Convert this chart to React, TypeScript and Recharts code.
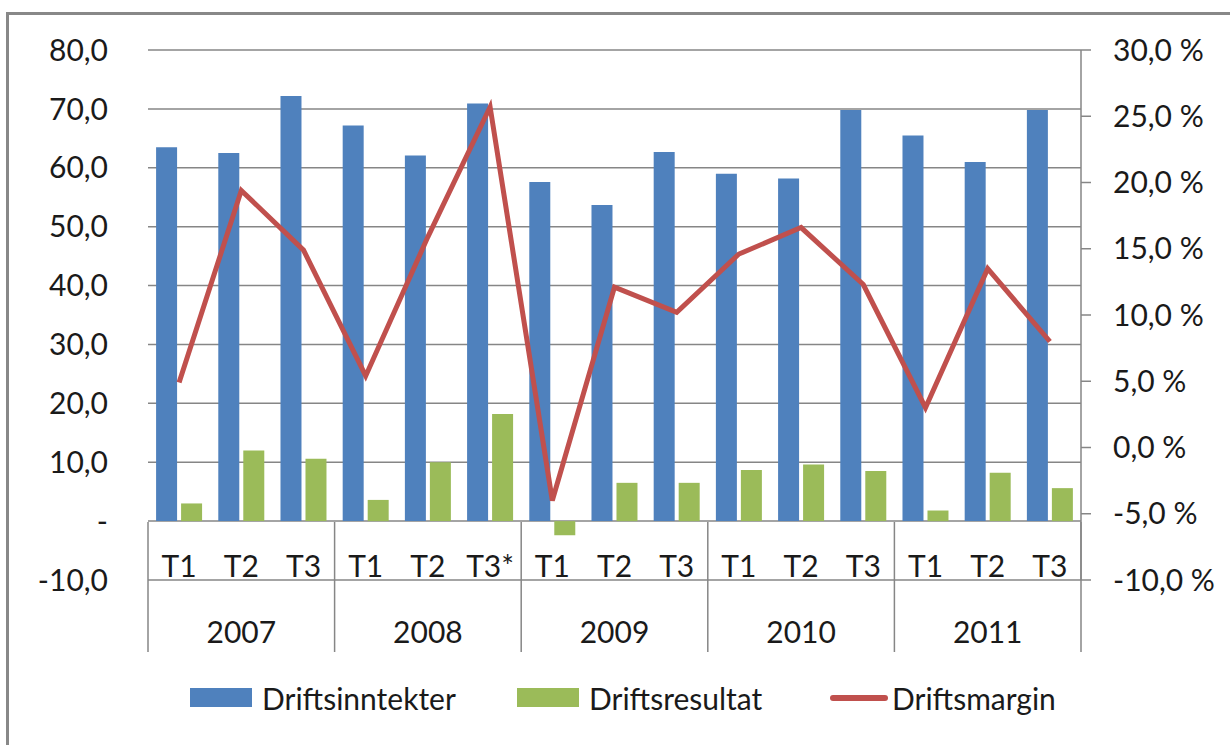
import React from 'react';
import { ComposedChart, Bar, Line, XAxis, YAxis, CartesianGrid, Legend } from 'recharts';

const quarters = ['T1', 'T2', 'T3', 'T1', 'T2', 'T3*', 'T1', 'T2', 'T3', 'T1', 'T2', 'T3', 'T1', 'T2', 'T3'];
const years = ['2007', '2008', '2009', '2010', '2011'];
const driftsinntekter = [63.5, 62.5, 72.2, 67.2, 62.1, 70.9, 57.6, 53.7, 62.7, 59.0, 58.2, 69.8, 65.5, 61.0, 69.8];
const driftsresultat = [3.0, 12.0, 10.6, 3.6, 10.0, 18.2, -2.4, 6.5, 6.5, 8.7, 9.6, 8.5, 1.8, 8.2, 5.6];
const driftsmargin = [4.9, 19.4, 14.9, 5.4, 15.9, 25.7, -4.0, 12.1, 10.2, 14.6, 16.6, 12.3, 3.0, 13.5, 8.0];
const leftTicks = [-10, 0, 10, 20, 30, 40, 50, 60, 70, 80];
const rightTicks = [-10, -5, 0, 5, 10, 15, 20, 25, 30];

const data = quarters.map((q, i) => ({
  key: `${years[Math.floor(i / 3)]}-${q}`,
  q,
  year: years[Math.floor(i / 3)],
  inn: driftsinntekter[i],
  res: driftsresultat[i],
  marg: driftsmargin[i],
}));

const FONT = 'Lato, "DejaVu Sans", sans-serif';
const FS = 30;
const GRID = '#868686';
const TEXT = '#1a1a1a';

const fmtLeft = (v: number) => (v === 0 ? '-' : v.toFixed(1).replace('.', ','));
const fmtRight = (v: number) => `${v.toFixed(1).replace('.', ',')} %`;

const PLOT_W = 1081 - 148;
const BW = PLOT_W / quarters.length;

const CatTick = (props: any) => {
  const { x, y, payload, index } = props;
  const i = index ?? payload.index;
  const d = data[i];
  return (
    <g>
      <text x={x} y={y - 3} textAnchor="middle" fontFamily={FONT} fontSize={FS} fill={TEXT}>
        {d ? d.q : payload.value}
      </text>
      {i % 3 === 1 && (
        <text x={x} y={y + 63} textAnchor="middle" fontFamily={FONT} fontSize={FS} fill={TEXT}>
          {d.year}
        </text>
      )}
      {i % 3 === 0 && (
        <line x1={x - BW / 2} x2={x - BW / 2} y1={y - 58} y2={y + 72} stroke={GRID} strokeWidth={1.5} />
      )}
      {i === quarters.length - 1 && (
        <line x1={x + BW / 2} x2={x + BW / 2} y1={y - 58} y2={y + 72} stroke={GRID} strokeWidth={1.5} />
      )}
    </g>
  );
};

const LegendContent = () => (
  <div style={{ position: 'relative', width: 1230, height: 40, fontFamily: FONT, fontSize: FS, color: TEXT }}>
    <div style={{ position: 'absolute', left: 190, top: 10, width: 62, height: 19, background: '#4F81BD' }} />
    <span style={{ position: 'absolute', left: 262, top: 0, lineHeight: '40px' }}>Driftsinntekter</span>
    <div style={{ position: 'absolute', left: 517, top: 10, width: 62, height: 19, background: '#9BBB59' }} />
    <span style={{ position: 'absolute', left: 589, top: 0, lineHeight: '40px' }}>Driftsresultat</span>
    <div style={{ position: 'absolute', left: 830, top: 17, width: 58, height: 6, borderRadius: 3, background: '#C0504D' }} />
    <span style={{ position: 'absolute', left: 892, top: 0, lineHeight: '40px' }}>Driftsmargin</span>
  </div>
);

export default function App() {
  return (
    <div style={{ position: 'absolute', left: 0, top: 0, width: 1230, height: 745, background: '#fff', overflow: 'hidden' }}>
      <div
        style={{
          position: 'absolute',
          left: 6,
          top: 12,
          width: 1240,
          height: 760,
          borderTop: '3px solid #888',
          borderLeft: '3px solid #888',
        }}
      />
      <ComposedChart
        width={1230}
        height={745}
        data={data}
        margin={{ top: 50, right: 0, bottom: 65, left: 0 }}
        barCategoryGap="13%"
        barGap={4}
      >
        <CartesianGrid yAxisId="left" vertical={false} stroke={GRID} strokeWidth={1.5} />
        <XAxis
          dataKey="key"
          height={100}
          tick={<CatTick />}
          tickLine={false}
          axisLine={false}
          tickSize={0}
          tickMargin={0}
          interval={0}
        />
        <YAxis
          yAxisId="left"
          orientation="left"
          width={148}
          domain={[-10, 80]}
          ticks={leftTicks}
          tickFormatter={fmtLeft}
          axisLine={false}
          tickLine={false}
          tickSize={0}
          tickMargin={40}
          tick={{ fontFamily: FONT, fontSize: FS, fill: TEXT }}
        />
        <YAxis
          yAxisId="right"
          orientation="right"
          width={149}
          domain={[-10, 30]}
          ticks={rightTicks}
          tickFormatter={fmtRight}
          axisLine={{ stroke: GRID, strokeWidth: 1.5 }}
          tickLine={{ stroke: GRID, strokeWidth: 1.5 }}
          tickSize={10}
          tickMargin={22}
          tick={{ fontFamily: FONT, fontSize: FS, fill: TEXT, textAnchor: 'start' }}
        />
        <Bar yAxisId="left" dataKey="inn" name="Driftsinntekter" fill="#4F81BD" isAnimationActive={false} />
        <Bar yAxisId="left" dataKey="res" name="Driftsresultat" fill="#9BBB59" isAnimationActive={false} />
        <Line
          yAxisId="right"
          type="linear"
          dataKey="marg"
          name="Driftsmargin"
          stroke="#C0504D"
          strokeWidth={5}
          dot={false}
          isAnimationActive={false}
        />
        <Legend
          layout="horizontal"
          verticalAlign="middle"
          align="center"
          content={<LegendContent />}
          wrapperStyle={{ top: 678, left: 0, width: 1230 }}
        />
      </ComposedChart>
    </div>
  );
}
